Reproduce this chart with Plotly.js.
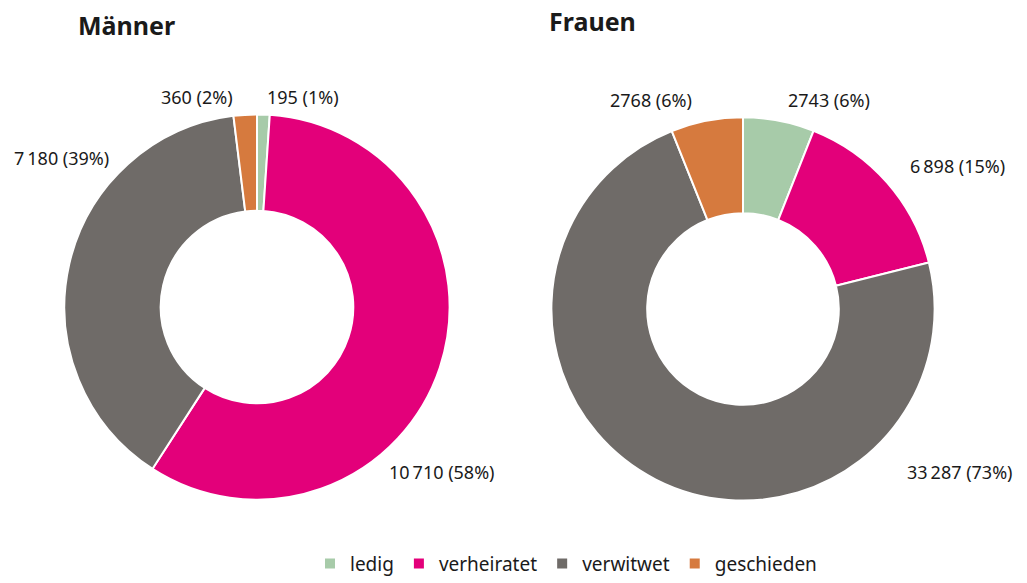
<!DOCTYPE html>
<html>
<head>
<meta charset="utf-8">
<script src="https://cdn.plot.ly/plotly-3.0.1.min.js"></script>
<style>html,body{margin:0;padding:0;background:#fff;}#chart{width:1027px;height:583px;}</style>
</head>
<body>
<div id="chart"></div>
<script>
const categories = ["ledig", "verheiratet", "verwitwet", "geschieden"];
const colors = ["#a7cba9", "#e3007a", "#6f6b68", "#d67a3e"];
const menValues = [195, 10710, 7180, 360];
const womenValues = [2743, 6898, 33287, 2768];
const menValueText = ["195", "10\u2009710", "7\u2009180", "360"];
const womenValueText = ["2743", "6\u2009898", "33\u2009287", "2768"];

function pct(vals) {
  const t = vals.reduce((a, b) => a + b, 0);
  return vals.map(v => Math.round(v / t * 100));
}
const menPct = pct(menValues);
const womenPct = pct(womenValues);

const font = "Noto Sans, Open Sans, sans-serif";
const W = 1027, H = 583;

const common = {
  type: "pie",
  labels: categories,
  marker: {colors: colors, line: {color: "#ffffff", width: 2}},
  hole: 0.5,
  sort: false,
  direction: "clockwise",
  rotation: 0,
  textinfo: "none",
  hoverinfo: "none"
};

const traces = [
  Object.assign({}, common, {values: menValues, name: "Männer",
    domain: {x: [60 / W, 454 / W], y: [1 - 511 / H, 1 - 117 / H]}}),
  Object.assign({}, common, {values: womenValues, name: "Frauen", showlegend: false,
    domain: {x: [547 / W, 939 / W], y: [1 - 512 / H, 1 - 120 / H]}})
];

// label positions (paper px) for each slice
const menLabelPos = [[303, 99], [442, 483], [61, 162], [197, 99]];
const womenLabelPos = [[829, 102], [957, 170], [960, 483], [651, 102]];

const annotations = [];
function addLabels(valText, pcts, pos) {
  for (let i = 0; i < valText.length; i++) {
    annotations.push({
      xref: "paper", yref: "paper",
      x: pos[i][0] / W, y: 1 - pos[i][1] / H,
      xanchor: "center", yanchor: "middle",
      showarrow: false,
      text: valText[i] + " (" + pcts[i] + "%)",
      font: {family: font, size: 18, color: "#1a1a1a"}
    });
  }
}
addLabels(menValueText, menPct, menLabelPos);
addLabels(womenValueText, womenPct, womenLabelPos);

annotations.push({xref: "paper", yref: "paper", x: 76 / W, y: 1 - 26 / H, xanchor: "left", yanchor: "middle",
  showarrow: false, text: "<b>Männer</b>", font: {family: font, size: 25, color: "#1a1a1a"}});
annotations.push({xref: "paper", yref: "paper", x: 547 / W, y: 1 - 21 / H, xanchor: "left", yanchor: "middle",
  showarrow: false, text: "<b>Frauen</b>", font: {family: font, size: 25, color: "#1a1a1a"}});

const layout = {
  width: W, height: H,
  margin: {l: 0, r: 0, t: 0, b: 0},
  paper_bgcolor: "#ffffff",
  showlegend: true,
  legend: {
    orientation: "h",
    x: 566 / W, xanchor: "center",
    y: 1 - 557 / H, yanchor: "top",
    font: {family: font, size: 19, color: "#1a1a1a"},
    itemclick: false, itemdoubleclick: false
  },
  annotations: annotations
};

Plotly.newPlot("chart", traces, layout, {displayModeBar: false, staticPlot: true});
</script>
</body>
</html>
